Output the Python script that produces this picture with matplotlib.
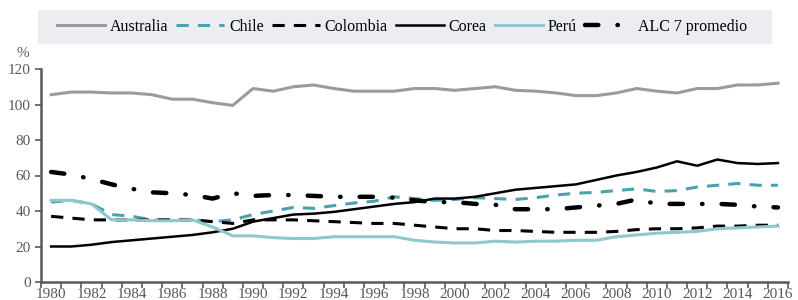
import numpy as np
import matplotlib.pyplot as plt
from matplotlib.patches import Rectangle
from matplotlib.ticker import FixedLocator

years = list(range(1980, 2017))

australia = [105.5, 107, 107, 106.5, 106.5, 105.5, 103, 103, 101, 99.5,
             109, 107.5, 110, 111, 109, 107.5, 107.5, 107.5, 109, 109,
             108, 109, 110, 108, 107.5, 106.5, 105, 105, 106.5, 109,
             107.5, 106.5, 109, 109, 111, 111, 112]
chile = [45, 46, 44, 38, 37, 35, 34.5, 35, 34, 35,
         38, 40, 42, 41.5, 43, 44.5, 45.5, 48, 47, 46,
         46.5, 47.5, 47, 46.5, 47.5, 49, 50, 50.5, 51.5, 52.5,
         51, 51.5, 53.5, 54.5, 55.5, 54.5, 54.5]
colombia = [37, 36, 35, 35, 35, 35, 35, 35, 34, 33,
            35, 35, 35, 34.5, 34, 33.5, 33, 33, 32, 31,
            30, 30, 29, 29, 28.5, 28, 28, 28, 28.5, 29.5,
            30, 30, 30.5, 31.5, 31.5, 32, 32]
corea = [20, 20, 21, 22.5, 23.5, 24.5, 25.5, 26.5, 28, 30,
         34, 36, 38, 38.5, 39.5, 41, 42.5, 44, 45, 47,
         47, 48, 50, 52, 53, 54, 55, 57.5, 60, 62,
         64.5, 68, 65.5, 69, 67, 66.5, 67]
peru = [46, 46, 44, 35, 35, 34.5, 34.5, 35, 31, 26,
        26, 25, 24.5, 24.5, 25.5, 25.5, 25.5, 25.5, 23.5, 22.5,
        22, 22, 23, 22.5, 23, 23, 23.5, 23.5, 25.5, 26.5,
        27.5, 28, 28.5, 30, 30.5, 31, 31.5]
alc7 = [62, 60.5, 58, 55, 52.5, 50.5, 50, 49, 47, 50,
        48.5, 49, 49, 48.5, 48, 48, 48, 47.5, 46, 45,
        45, 44, 43.5, 41, 41, 41, 42, 43, 44, 46.5,
        44, 44, 44, 44, 43.5, 42.5, 42]

yticks = [0, 20, 40, 60, 80, 100, 120]

plt.rcParams['font.family'] = ['Liberation Serif', 'DejaVu Serif']

fig = plt.figure(figsize=(7.98, 3.0), dpi=100)
ax = fig.add_axes([0.0514, 0.06, 0.9361, 0.71])

x = np.arange(len(years))
ax.plot(x, australia, color='#9a9b9e', lw=2.2, label='Australia')
ax.plot(x, chile, color='#4aa2ae', lw=2.2, dashes=(4, 3), label='Chile')
ax.plot(x, colombia, color='black', lw=2.2, dashes=(4, 3), label='Colombia')
ax.plot(x, corea, color='black', lw=1.8, label='Corea')
ax.plot(x, peru, color='#8ec8cd', lw=2.2, label='Perú')
ax.plot(x, alc7, color='black', lw=3.2, dashes=(3.0, 4.3, 0.1, 4.3),
        dash_capstyle='round', label='ALC 7 promedio')

ax.set_xlim(-0.5, len(years) - 0.5)
ax.set_ylim(0, 120)
ax.set_yticks(yticks)

ax.xaxis.set_major_locator(FixedLocator(x[::2]))
ax.set_xticklabels([str(y) for y in years[::2]])
ax.xaxis.set_minor_locator(FixedLocator(np.arange(-0.5, len(years), 1)))
ax.tick_params(axis='x', which='major', length=0, pad=4)
ax.tick_params(axis='x', which='minor', length=4, width=1.2, color='#595959')
ax.tick_params(axis='y', length=4, width=1.2, color='#595959')
ax.tick_params(labelsize=11, labelcolor='#595959')

for s in ['top', 'right']:
    ax.spines[s].set_visible(False)
for s in ['left', 'bottom']:
    ax.spines[s].set_color('#595959')
    ax.spines[s].set_linewidth(1.8)

fig.text(0.028, 0.823, '%', fontsize=11, color='#595959', ha='center', va='center')

# grey legend band
fig.patches.append(Rectangle((38 / 798, 1 - 44 / 300), 734 / 798, 34 / 300,
                             transform=fig.transFigure, facecolor='#ecedf1',
                             edgecolor='none', zorder=-1))

leg = ax.legend(loc='center left', bbox_to_anchor=(57 / 798, 1 - 27 / 300, 690 / 798, 0),
                bbox_transform=fig.transFigure, mode='expand', ncol=6,
                frameon=False, fontsize=11.5, handlelength=3.0,
                handletextpad=0.3, borderaxespad=0, borderpad=0,
                columnspacing=1.5)

fig.savefig('out.png', dpi=100)
